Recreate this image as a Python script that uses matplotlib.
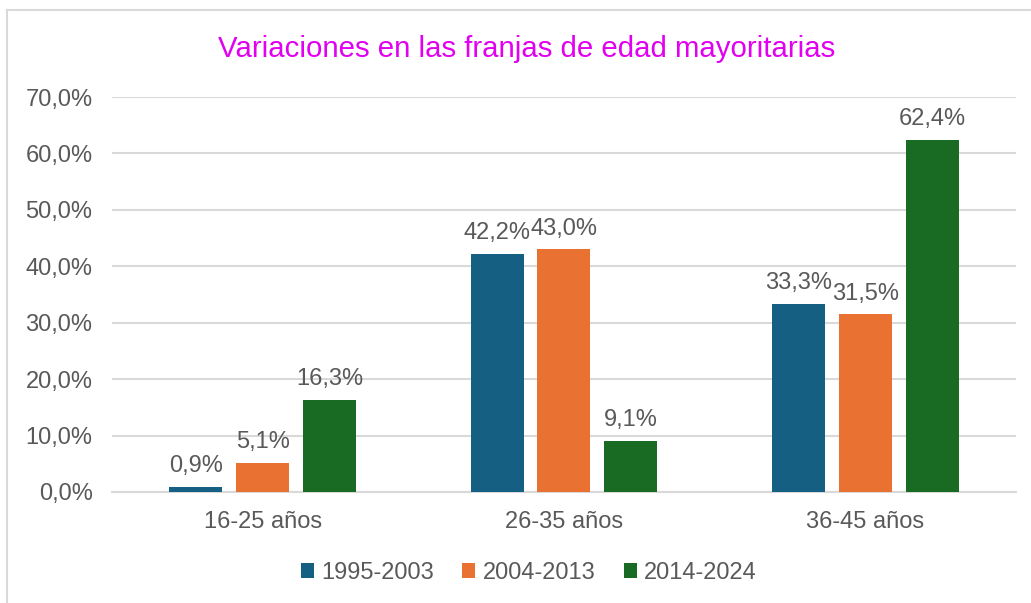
import numpy as np
import matplotlib.pyplot as plt
from matplotlib.lines import Line2D

categories = ['16-25 años', '26-35 años', '36-45 años']
series_names = ['1995-2003', '2004-2013', '2014-2024']
v_1995 = [0.9, 42.2, 33.3]
v_2004 = [5.1, 43.0, 31.5]
v_2014 = [16.3, 9.1, 62.4]
colors = ['#156082', '#E97132', '#196B24']

plt.rcParams['font.family'] = ['Liberation Sans', 'DejaVu Sans']
text_col = '#595959'

fig = plt.figure(figsize=(10.31, 6.03), dpi=100)
ax = fig.add_axes([0.1086, 0.1841, 0.8768, 0.655])

x = np.arange(len(categories))
width = 0.176
step = 0.222
for i, (name, vals) in enumerate(zip(series_names, [v_1995, v_2004, v_2014])):
    pos = x + (i - 1) * step
    bars = ax.bar(pos, vals, width, color=colors[i], label=name, zorder=3)
    for b, v in zip(bars, vals):
        ax.annotate(f'{v:.1f}%'.replace('.', ','), (b.get_x() + b.get_width() / 2, v),
                    xytext=(0, 7), textcoords='offset points', ha='center', va='bottom',
                    fontsize=17, color=text_col)

ax.set_xlim(-0.5, 2.5)
ax.set_ylim(0, 70)
yt = np.arange(0, 71, 10)
ax.set_yticks(yt)
ax.set_yticklabels([f'{t:.1f}%'.replace('.', ',') for t in yt])
ax.set_xticks(x)
ax.set_xticklabels(categories)
ax.tick_params(axis='both', length=0, labelsize=17, labelcolor=text_col)
ax.tick_params(axis='y', pad=14)
ax.tick_params(axis='x', pad=14)
ax.grid(axis='y', color='#d9d9d9', linewidth=1.5, zorder=0)
for s in ['top', 'right', 'left']:
    ax.spines[s].set_visible(False)
ax.spines['bottom'].set_color('#d9d9d9')
ax.spines['bottom'].set_linewidth(1.5)

fig.text(0.511, 0.918, 'Variaciones en las franjas de edad mayoritarias',
         ha='center', va='center', fontsize=21.2, color='#E100F0')

leg = fig.legend(loc='center', bbox_to_anchor=(0.513, 0.05), ncol=3, frameon=False,
                 fontsize=17, handlelength=0.55, handleheight=0.55, handletextpad=0.3,
                 columnspacing=1.2)
for t in leg.get_texts():
    t.set_color(text_col)

# outer chart border (left and top visible)
fig.add_artist(Line2D([7 / 1031, 7 / 1031], [0, 1 - 10 / 603], transform=fig.transFigure,
                      color='#d9d9d9', linewidth=1.5))
fig.add_artist(Line2D([7 / 1031, 1], [1 - 10 / 603, 1 - 10 / 603], transform=fig.transFigure,
                      color='#d9d9d9', linewidth=1.5))

plt.savefig('out.png', dpi=100)
